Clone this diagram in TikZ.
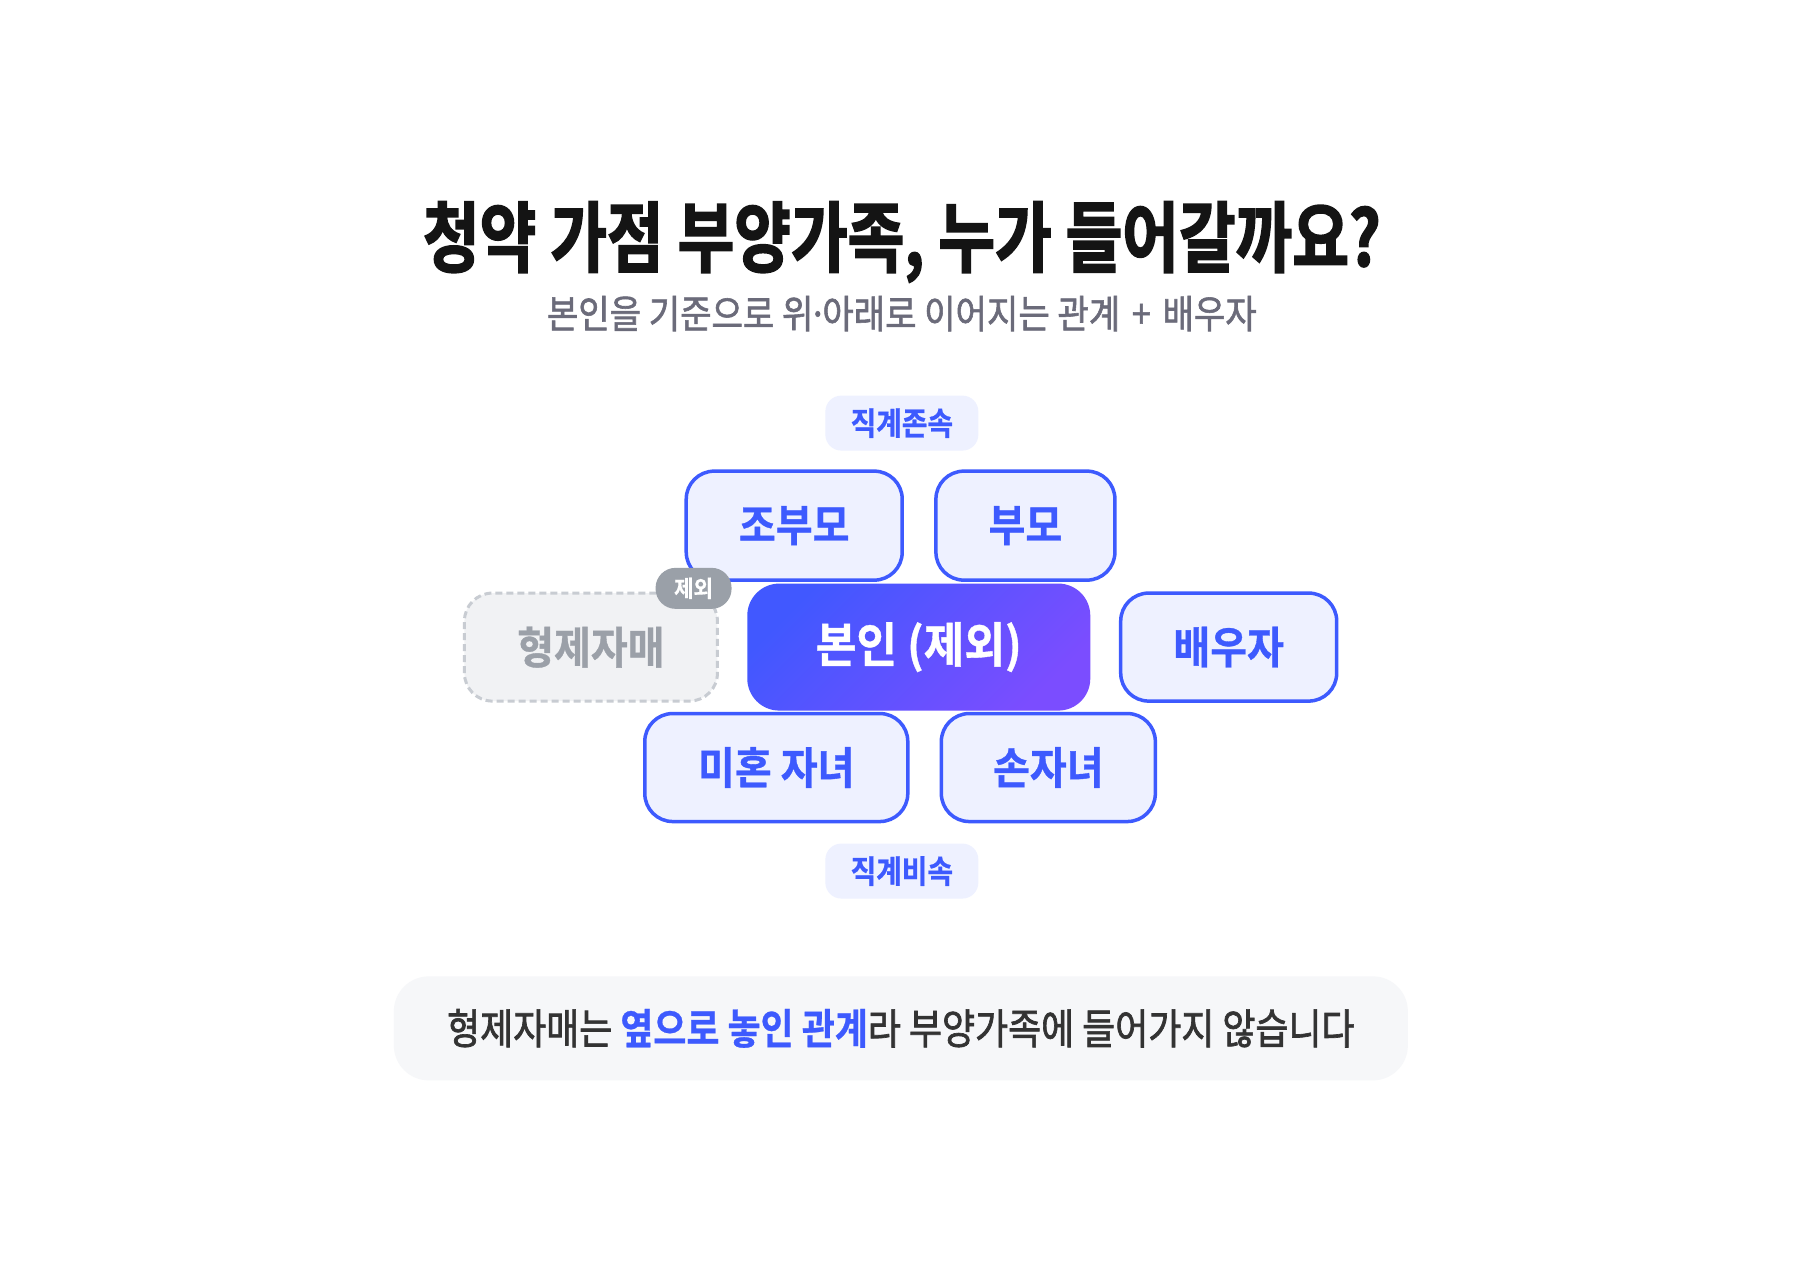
\documentclass[tikz,border=0pt]{standalone}
\usepackage{fontspec}
\newfontfamily\ktitle[FakeStretch=0.80,FakeBold=2]{Noto Sans CJK KR Bold}
\newfontfamily\ksub[FakeStretch=0.875,FakeBold=1.5]{Noto Sans CJK KR}
\newfontfamily\kbox[FakeStretch=0.91,FakeBold=0.8]{Noto Sans CJK KR Bold}
\newfontfamily\kself[FakeStretch=0.92,FakeBold=0.8]{Noto Sans CJK KR Bold}
\newfontfamily\kbadge[FakeStretch=0.87,FakeBold=0.6]{Noto Sans CJK KR Bold}
\newfontfamily\ktag[FakeStretch=0.92,FakeBold=0.6]{Noto Sans CJK KR Bold}
\newfontfamily\knoteR[FakeStretch=0.855,FakeBold=1.6]{Noto Sans CJK KR}
\newfontfamily\knoteB[FakeStretch=0.855,FakeBold=0.6]{Noto Sans CJK KR Bold}
\definecolor{mainblue}{HTML}{3D5AFE}
\definecolor{lightfill}{HTML}{EEF1FF}
\definecolor{sibdraw}{HTML}{C8CCD2}
\definecolor{sibfill}{HTML}{F1F2F4}
\definecolor{sibtext}{HTML}{9BA0A8}
\definecolor{tagfill}{HTML}{9AA0A8}
\definecolor{gradA}{HTML}{4158FF}
\definecolor{gradB}{HTML}{7B4DFF}
\definecolor{titlecol}{HTML}{141414}
\definecolor{subcol}{HTML}{6B6B7A}
\definecolor{notefill}{HTML}{F6F7F9}
\definecolor{notetext}{HTML}{333333}
\begin{document}
\begin{tikzpicture}[x=0.9965pt,y=-0.9955pt,
  famnode/.style={draw=mainblue, line width=3.5pt, fill=lightfill, rounded corners=28pt,
    inner sep=0pt, text=mainblue, font=\kbox\fontsize{44}{50}\selectfont},
  sibnode/.style={draw=sibdraw, line width=3pt, dash pattern=on 7pt off 4pt, fill=sibfill,
    rounded corners=28pt, inner sep=0pt, text=sibtext, font=\kbox\fontsize{44}{50}\selectfont},
  selfnode/.style={rounded corners=32pt, inner sep=0pt, text=white,
    left color=gradA, right color=gradB, shading angle=45,
    font=\kself\fontsize{48}{54}\selectfont},
  badgenode/.style={fill=lightfill, rounded corners=16pt, inner sep=0pt, text=mainblue,
    minimum width=153pt, minimum height=55pt, font=\kbadge\fontsize{32}{36}\selectfont},
  tagnode/.style={fill=tagfill, rounded corners=20pt, inner sep=0pt, text=white,
    minimum width=76pt, minimum height=41pt, font=\ktag\fontsize{23}{26}\selectfont},
  notenode/.style={fill=notefill, rounded corners=35pt, inner sep=0pt, text=notetext,
    minimum width=1014pt, minimum height=104pt, font=\knoteR\fontsize{42}{48}\selectfont}
]
\useasboundingbox[fill=white] (0,0) rectangle (1806.3,1285.8);

\node[text=titlecol, font=\ktitle\fontsize{77}{84}\selectfont, inner sep=0pt] (title) at (905,243) {청약 가점 부양가족, 누가 들어갈까요?};
\node[text=subcol, font=\ksub\fontsize{39}{44}\selectfont, inner sep=0pt] (sub) at (905,315) {본인을 기준으로 위\kern-0.13em·\kern-0.13em아래로 이어지는 관계\hspace{0.3em}+\hspace{0.3em}배우자};

\node[badgenode] (asc) at (905,425) {직계존속};

\node[famnode, minimum width=216pt, minimum height=109pt] (gp) at (797,528) {조부모};
\node[famnode, minimum width=179pt, minimum height=109pt] (par) at (1029,528) {부모};

\node[sibnode, minimum width=253pt, minimum height=108pt] (sib) at (593,650) {형제자매};
\node[selfnode, minimum width=343pt, minimum height=127pt] (self) at (922,650) {본인 (제외)};
\node[famnode, minimum width=216pt, minimum height=108pt] (sp) at (1233,650) {배우자};

\node[famnode, minimum width=263pt, minimum height=108pt] (ch) at (779,771) {미혼 자녀};
\node[famnode, minimum width=214pt, minimum height=108pt] (gc) at (1052,771) {손자녀};

\node[badgenode] (desc) at (905,875) {직계비속};

\node[tagnode] (ex) at (696,591) {제외};

\node[notenode] (note) at (904,1033) {형제자매는 {\knoteB\color{mainblue}옆으로 놓인 관계}라 부양가족에 들어가지 않습니다};
\end{tikzpicture}
\end{document}
